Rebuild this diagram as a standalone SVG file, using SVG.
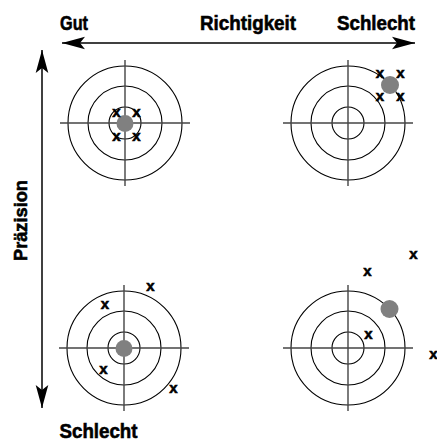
<svg xmlns="http://www.w3.org/2000/svg" width="437" height="439" viewBox="0 0 437 439">
<defs>
<style>
.lbl{font-family:"Liberation Sans",Arial,sans-serif;font-weight:bold;font-size:21px;fill:#000;stroke:#000;stroke-width:0.6}
.x{font-family:"Liberation Sans",Arial,sans-serif;font-weight:bold;font-size:15px;fill:#000;stroke:#000;stroke-width:0.6;text-anchor:middle}
.ring{fill:none;stroke:#000;stroke-width:1.1}
.cross{stroke:#444;stroke-width:1.4}
.dot{fill:#808080}
.axis{stroke:#000;stroke-width:1.5;fill:none}
</style>
<marker id="ah" markerUnits="userSpaceOnUse" markerWidth="30" markerHeight="16" viewBox="-24 -8 26 16" refX="0" refY="0" orient="auto-start-reverse">
<path d="M0,0 L-23,-6.3 L-18,0 L-23,6.3 Z" fill="#000"/>
</marker>
<g id="target">
<circle class="ring" r="57"/>
<circle class="ring" r="37"/>
<circle class="ring" r="16"/>
<line class="cross" x1="-65" y1="0" x2="65" y2="0"/>
<line class="cross" x1="0" y1="-63" x2="0" y2="63"/>
</g>
</defs>
<rect width="437" height="439" fill="#fff"/>
<g id="connectors">
<line class="axis" x1="62" y1="43" x2="415" y2="43" marker-start="url(#ah)" marker-end="url(#ah)"/>
<line class="axis" x1="42" y1="50" x2="42" y2="408" marker-start="url(#ah)" marker-end="url(#ah)"/>
</g>
<g id="labels">
<text class="lbl" x="60" y="30" textLength="28" lengthAdjust="spacingAndGlyphs">Gut</text>
<text class="lbl" x="200" y="30" textLength="96" lengthAdjust="spacingAndGlyphs">Richtigkeit</text>
<text class="lbl" x="337" y="30" textLength="78" lengthAdjust="spacingAndGlyphs">Schlecht</text>
<text class="lbl" x="59.5" y="437.5" textLength="78" lengthAdjust="spacingAndGlyphs">Schlecht</text>
<text class="lbl" style="font-size:19px" transform="translate(26.5,261) rotate(-90)" x="0" y="0" textLength="81" lengthAdjust="spacingAndGlyphs">Präzision</text>
</g>
<g id="target-tl">
<use href="#target" x="125" y="123"/>
<circle class="dot" cx="125" cy="123.5" r="8.5"/>
<text class="x" x="116.5" y="117">x</text>
<text class="x" x="136.5" y="117">x</text>
<text class="x" x="116.5" y="141">x</text>
<text class="x" x="136.5" y="141">x</text>
</g>
<g id="target-tr">
<use href="#target" x="348" y="123"/>
<circle class="dot" cx="390" cy="85" r="9"/>
<text class="x" x="380" y="77.5">x</text>
<text class="x" x="400.5" y="77.5">x</text>
<text class="x" x="380" y="101">x</text>
<text class="x" x="400.5" y="101">x</text>
</g>
<g id="target-bl">
<use href="#target" x="124" y="348"/>
<circle class="dot" cx="124" cy="348.5" r="8.5"/>
<text class="x" x="150.5" y="291">x</text>
<text class="x" x="105" y="309">x</text>
<text class="x" x="103.5" y="373.5">x</text>
<text class="x" x="173.5" y="392.5">x</text>
</g>
<g id="target-br">
<use href="#target" x="348" y="348"/>
<circle class="dot" cx="389.5" cy="309" r="9"/>
<text class="x" x="367.5" y="276">x</text>
<text class="x" x="413.5" y="259">x</text>
<text class="x" x="368.5" y="339">x</text>
<text class="x" x="433.5" y="359">x</text>
</g>
</svg>
